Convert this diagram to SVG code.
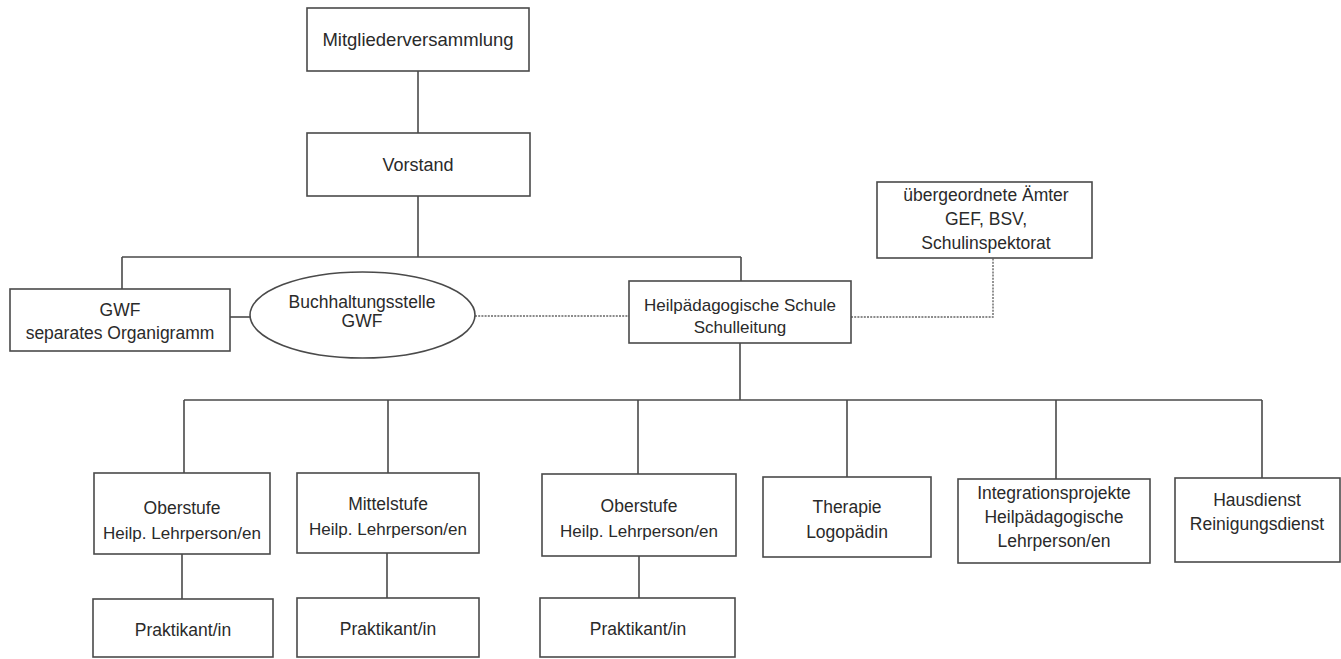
<svg xmlns="http://www.w3.org/2000/svg" width="1341" height="659" viewBox="0 0 1341 659">
<style>
.box{fill:#fff;stroke:#4a4a4a;stroke-width:1.6}
.ln{fill:none;stroke:#4a4a4a;stroke-width:1.6}
.dot{fill:none;stroke:#666;stroke-width:1.4;stroke-dasharray:2 1.2}
text{font-family:"Liberation Sans",Arial,sans-serif;font-size:17.5px;fill:#2a2a2a;text-anchor:middle}
</style>
<rect width="1341" height="659" fill="#fff"/>
<g id="connectors">
<path class="ln" d="M418 71V133"/>
<path class="ln" d="M418 196V257M122 257H741M122 257V289M741 257V281"/>
<path class="ln" d="M230 317H250"/>
<path class="dot" d="M475 316H629"/>
<path class="dot" d="M851 317H993V258"/>
<path class="ln" d="M740 343V400M184 400H1262"/>
<path class="ln" d="M184 400V473M388 400V473M638 400V474M847 400V477M1056 400V479M1262 400V478"/>
<path class="ln" d="M182 554V599M387 553V598M639 556V598"/>
</g>
<g id="mitglieder"><rect class="box" x="307" y="8" width="222" height="63"/><text x="418" y="46" style="font-size:18.5px">Mitgliederversammlung</text></g>
<g id="vorstand"><rect class="box" x="307" y="133" width="223" height="63"/><text x="418" y="171" style="font-size:18px">Vorstand</text></g>
<g id="aemter"><rect class="box" x="877" y="182" width="215" height="76"/><text x="986" y="201">übergeordnete Ämter</text><text x="986" y="225">GEF, BSV,</text><text x="986" y="249">Schulinspektorat</text></g>
<g id="gwf"><rect class="box" x="10" y="289" width="220" height="62"/><text x="120" y="316">GWF</text><text x="120" y="339">separates Organigramm</text></g>
<g id="buchhaltung"><ellipse class="box" cx="362.5" cy="315" rx="112.5" ry="43"/><text x="362" y="308">Buchhaltungsstelle</text><text x="362" y="327">GWF</text></g>
<g id="schule"><rect class="box" x="629" y="281" width="222" height="62"/><text x="740" y="311" style="font-size:17px">Heilpädagogische Schule</text><text x="740" y="333" style="font-size:17px">Schulleitung</text></g>
<g id="oberstufe1"><rect class="box" x="94" y="473" width="176" height="81"/><text x="182" y="514">Oberstufe</text><text x="182" y="539" style="font-size:17px">Heilp. Lehrperson/en</text></g>
<g id="mittelstufe"><rect class="box" x="297" y="473" width="182" height="80"/><text x="388" y="510">Mittelstufe</text><text x="388" y="535" style="font-size:17px">Heilp. Lehrperson/en</text></g>
<g id="oberstufe2"><rect class="box" x="542" y="474" width="194" height="82"/><text x="639" y="512">Oberstufe</text><text x="639" y="537" style="font-size:17px">Heilp. Lehrperson/en</text></g>
<g id="therapie"><rect class="box" x="763" y="477" width="168" height="80"/><text x="847" y="513">Therapie</text><text x="847" y="538">Logopädin</text></g>
<g id="integration"><rect class="box" x="958" y="479" width="192" height="84"/><text x="1054" y="499">Integrationsprojekte</text><text x="1054" y="523">Heilpädagogische</text><text x="1054" y="547">Lehrperson/en</text></g>
<g id="hausdienst"><rect class="box" x="1175" y="478" width="165" height="84"/><text x="1257" y="506">Hausdienst</text><text x="1257" y="530">Reinigungsdienst</text></g>
<g id="praktikant1"><rect class="box" x="93" y="599" width="180" height="58"/><text x="183" y="636">Praktikant/in</text></g>
<g id="praktikant2"><rect class="box" x="297" y="598" width="182" height="59"/><text x="388" y="635">Praktikant/in</text></g>
<g id="praktikant3"><rect class="box" x="540" y="598" width="195" height="59"/><text x="638" y="635">Praktikant/in</text></g>
</svg>
